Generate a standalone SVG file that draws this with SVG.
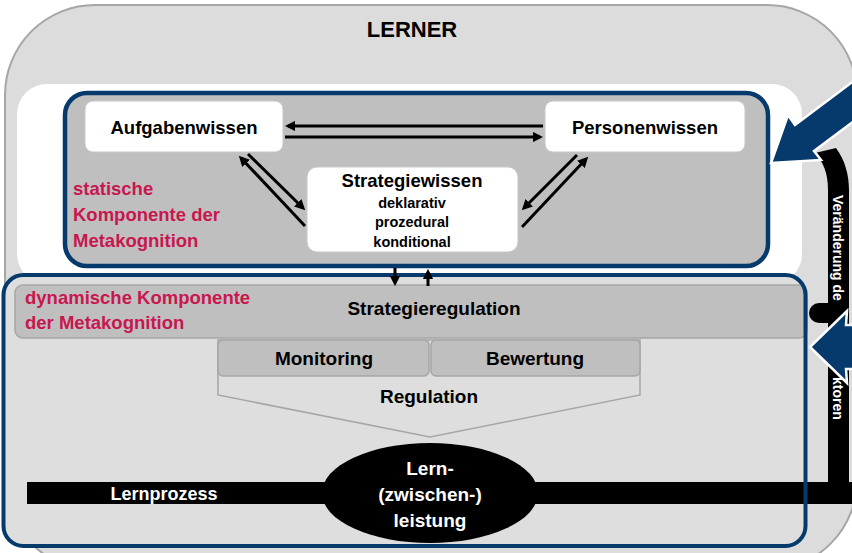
<svg xmlns="http://www.w3.org/2000/svg" width="852" height="553" viewBox="0 0 852 553">
<defs>
<style>
.t{font-family:"Liberation Sans",Arial,sans-serif;font-weight:bold;fill:#000;text-anchor:middle}
.w{fill:#fff}
.m{font-family:"Liberation Sans",Arial,sans-serif;font-weight:bold;fill:#c8174f;font-size:18.5px}
.node{fill:#fff;stroke:#c8c8c8;stroke-width:1}
.gbox{fill:#bfbfbf;stroke:#a6a6a6;stroke-width:1.5}
.navy{fill:#063a6c;stroke:#fff;stroke-width:2.5;stroke-linejoin:miter}
.con{stroke:#000;stroke-width:3;fill:none;marker-end:url(#ah)}
</style>
<marker id="ah" viewBox="0 0 10 10" refX="7" refY="5" markerWidth="3.5" markerHeight="3.5" orient="auto" markerUnits="strokeWidth">
<path d="M0,0 L10,5 L0,10 z" fill="#000"/>
</marker>
</defs>

<g id="lerner">
<rect x="5" y="5" width="852" height="565" rx="90" ry="90" fill="#dcdcdc" stroke="#a6a6a6" stroke-width="2"/>
<text class="t" x="412" y="37" font-size="22">LERNER</text>
<rect x="17" y="84" width="785" height="200" rx="30" ry="30" fill="#fff"/>
</g>

<g id="statisch">
<rect x="65" y="93" width="703" height="173" rx="22" ry="22" fill="#bfbfbf" stroke="#063a6c" stroke-width="4.5"/>
<text class="m" x="73" y="195">statische</text>
<text class="m" x="73" y="221">Komponente der</text>
<text class="m" x="73" y="247">Metakognition</text>
</g>

<g id="aufgabenwissen">
<rect class="node" x="85" y="101" width="198" height="51" rx="8"/>
<text class="t" x="184" y="134" font-size="18.5">Aufgabenwissen</text>
</g>

<g id="personenwissen">
<rect class="node" x="545" y="101" width="200" height="51" rx="8"/>
<text class="t" x="645" y="134" font-size="18.5">Personenwissen</text>
</g>

<g id="strategiewissen">
<rect class="node" x="307" y="167" width="211" height="85" rx="10"/>
<text class="t" x="412" y="187" font-size="18.5">Strategiewissen</text>
<text class="t" x="412" y="208" font-size="14.5">deklarativ</text>
<text class="t" x="412" y="227" font-size="14.5">prozedural</text>
<text class="t" x="412" y="247" font-size="14.5">konditional</text>
</g>

<g id="dynamisch-fill">
<rect x="3.5" y="275" width="802" height="271" rx="20" ry="20" fill="#dedede"/>
</g>

<g id="strategieregulation">
<rect class="gbox" x="15" y="285" width="792" height="53" rx="8"/>
<text class="m" x="25" y="304">dynamische Komponente</text>
<text class="m" x="25" y="329">der Metakognition</text>
<text class="t" x="434" y="315" font-size="19">Strategieregulation</text>
</g>

<g id="regulation">
<path d="M218,340 L640,340 L640,395 L430,437 L218,395 Z" fill="#dedede" stroke="#a6a6a6" stroke-width="1.5"/>
<text class="t" x="429" y="403" font-size="19">Regulation</text>
</g>

<g id="monitoring">
<rect class="gbox" x="218" y="340" width="211" height="36" rx="5"/>
<text class="t" x="324" y="365" font-size="19">Monitoring</text>
</g>

<g id="bewertung">
<rect class="gbox" x="431" y="340" width="209" height="36" rx="5"/>
<text class="t" x="535" y="365" font-size="19">Bewertung</text>
</g>

<g id="lernprozess">
<path d="M828,482 L828,190 C828,172 823,162 815,153 L836,148 C845,160 849,175 849,190 L849,482 L852,482 L852,504 L27,504 L27,482 Z" fill="#000"/>
<rect x="809" y="303" width="30" height="20" rx="10" fill="#000"/>
<text class="t w" x="164" y="500" font-size="18">Lernprozess</text>
<text class="w" font-family="Liberation Sans, Arial, sans-serif" font-weight="bold" font-size="14" transform="translate(833,195) rotate(90)">Veränderung de</text>
<text class="w" font-family="Liberation Sans, Arial, sans-serif" font-weight="bold" font-size="14" transform="translate(833,377) rotate(90)">ktoren</text>
</g>

<g id="leistung">
<ellipse cx="430" cy="493" rx="108" ry="50" fill="#000"/>
<text class="t w" x="430" y="475" font-size="19">Lern-</text>
<text class="t w" x="430" y="501" font-size="19">(zwischen-)</text>
<text class="t w" x="430" y="527" font-size="19">leistung</text>
</g>

<g id="dynamisch-rahmen">
<rect x="3.5" y="275" width="802" height="271" rx="20" ry="20" fill="none" stroke="#063a6c" stroke-width="4"/>
</g>

<g id="einfluss-pfeile">
<polygon class="navy" points="891,53 795,125 788,115 771,163 821,160 814,151 910,79"/>
<polygon class="navy" points="870,325 846,325 847,311 810,347 847,383 846,369 870,369"/>
</g>

<g id="connectors">
<line class="con" x1="543" y1="126" x2="288" y2="126"/>
<line class="con" x1="285" y1="137" x2="540" y2="137"/>
<line class="con" x1="305" y1="226" x2="241" y2="158"/>
<line class="con" x1="248" y1="154" x2="303" y2="208"/>
<line class="con" x1="577" y1="155" x2="524" y2="208"/>
<line class="con" x1="522" y1="227" x2="586" y2="159"/>
<line class="con" x1="395" y1="268" x2="395" y2="283"/>
<line class="con" x1="428" y1="286" x2="428" y2="272"/>
</g>
</svg>
